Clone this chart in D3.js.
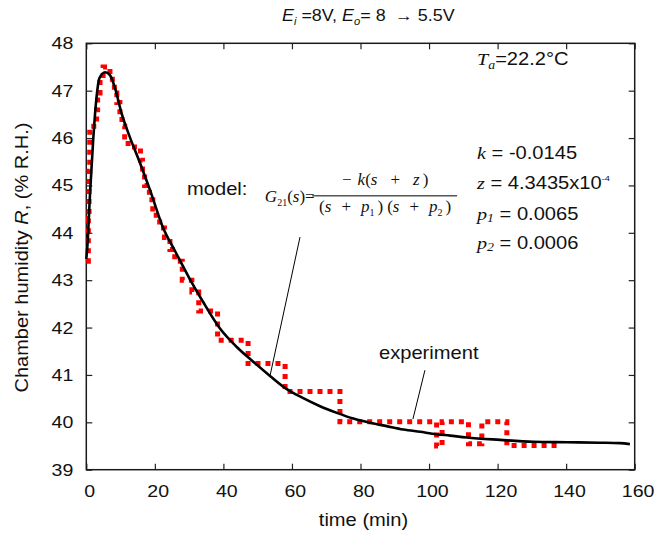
<!DOCTYPE html>
<html lang="en">
<head>
<meta charset="UTF-8">
<title>Chamber humidity step response</title>
<script src="https://cdn.jsdelivr.net/npm/d3@7"></script>
<style>
    body { margin: 0; background: #fff; }
    svg { display: block; }
    text { font-family: "Liberation Sans", Arial, Helvetica, sans-serif; fill: #111; }
</style>
</head>
<body>
<script type="text/javascript">
    // model response (black)
    var modelTime = [0, 0.3, 1.1, 2.0, 3.0, 3.8, 5.5, 6.9, 8.4, 10.3, 12.7, 15.7, 18.6, 22.5, 26, 30, 34,
        39.0, 43.9, 48.7, 53.6, 58.5, 63.3, 68.2, 73.1, 77.9, 82.8, 87.6, 92.5, 97.4, 102.2, 106.1,
        111.0, 120.7, 130.4, 140.2, 149.9, 155.7, 158.6];
    var modelHumidity = [43.45, 43.7, 44.84, 45.95, 46.87, 47.26, 47.39, 47.33, 47.05, 46.52, 46.02, 45.47, 44.9, 44.09, 43.6, 43.05, 42.55,
        41.98, 41.59, 41.28, 40.98, 40.70, 40.51, 40.34, 40.20, 40.08, 39.99, 39.92, 39.85, 39.80, 39.75, 39.72,
        39.68, 39.63, 39.59, 39.58, 39.57, 39.56, 39.54];

    // experiment (red, stepped)
    var expTime = [0, 0.6, 0.8, 1.0, 3.0, 3.3, 4.0, 4.9, 6.9, 7.6, 8.2, 8.9, 9.8, 10.4, 11.2, 12.2,
        15.8, 16.4, 17.0, 18.4, 19.4, 20.4, 21.4, 22.8, 24.4, 25.8, 28.0, 30.8, 32.8, 38.3,
        47.2, 58.0, 74.0, 102.2, 103.8, 111.5, 115.4, 122.7, 138.2];
    var expHumidity = [43.4, 44.3, 45.3, 46.25, 46.6, 46.95, 47.25, 47.5, 47.35, 47.15, 46.95, 46.75, 46.5, 46.25, 46.02, 45.81,
        45.53, 45.25, 45.0, 44.7, 44.5, 44.3, 44.1, 43.9, 43.65, 43.4, 43.0, 42.75, 42.35, 41.73,
        41.24, 40.65, 40.01, 39.5, 40.01, 39.55, 40.01, 39.51, 39.51];

    var xTicks = [0, 20, 40, 60, 80, 100, 120, 140, 160];
    var yTicks = [39, 40, 41, 42, 43, 44, 45, 46, 47, 48];

    var svgWidth = 657;
    var svgHeight = 534;
    var margin = {top: 43.3, right: 22.3, bottom: 64.3, left: 86.3};
    var w = svgWidth - margin.left - margin.right;
    var h = svgHeight - margin.top - margin.bottom;
    var stretch = 1.15; // the source font runs wider than Arial

    var modelData = modelTime.map(function (t, i) { return [t, modelHumidity[i]]; });
    var expData = expTime.map(function (t, i) { return [t, expHumidity[i]]; });

    var xScale = d3.scaleLinear().domain([0, 160]).range([0, w]);
    var yScale = d3.scaleLinear().domain([39, 48]).range([h, 0]);

    var svg = d3.select("body").append("svg")
        .attr("width", svgWidth)
        .attr("height", svgHeight);
    var g = svg.append("g")
        .attr("transform", "translate(" + margin.left + "," + margin.top + ")");

    // axes, ticks pointing inward on all four sides
    var xAxis = d3.axisBottom(xScale).tickValues(xTicks).tickSizeInner(-6).tickSizeOuter(0).tickPadding(15);
    var yAxis = d3.axisLeft(yScale).tickValues(yTicks).tickSizeInner(-6).tickSizeOuter(0).tickPadding(11.3);
    var gx = g.append("g").attr("class", "x axis")
        .attr("transform", "translate(0," + h + ")")
        .call(xAxis);
    var gy = g.append("g").attr("class", "y axis").call(yAxis);
    g.append("g").call(d3.axisTop(xScale).tickValues(xTicks).tickSizeInner(-6).tickSizeOuter(0).tickFormat(""));
    g.append("g").attr("transform", "translate(" + w + ",0)")
        .call(d3.axisRight(yScale).tickValues(yTicks).tickSizeInner(-6).tickSizeOuter(0).tickFormat(""));
    g.selectAll(".domain").remove();
    g.selectAll(".tick line").attr("stroke", "#222").attr("stroke-width", 1.2);
    g.selectAll(".tick text").attr("font-size", "17px").attr("fill", "#111")
        .attr("font-family", "Liberation Sans, Arial, sans-serif")
        .attr("transform", "scale(" + stretch + ",1)");
    gx.selectAll(".tick text").attr("dx", 2.5);

    g.append("rect")
        .attr("width", w)
        .attr("height", h)
        .attr("fill", "none")
        .attr("stroke", "#1a1a1a")
        .attr("stroke-width", 1.5);

    // experiment trace
    var stepLine = d3.line()
        .x(function (d) { return xScale(d[0]); })
        .y(function (d) { return yScale(d[1]); })
        .curve(d3.curveStepAfter);
    g.append("path")
        .datum(expData)
        .attr("d", stepLine)
        .attr("fill", "none")
        .attr("stroke", "#ff0000")
        .attr("stroke-width", 5)
        .attr("stroke-dasharray", "5,5");

    // model
    var modelLine = d3.line()
        .x(function (d) { return xScale(d[0]); })
        .y(function (d) { return yScale(d[1]); })
        .curve(d3.curveMonotoneX);
    g.append("path")
        .datum(modelData)
        .attr("d", modelLine)
        .attr("fill", "none")
        .attr("stroke", "#000")
        .attr("stroke-width", 2.6);

    // helper for mixed-style text; sx widens it like the source
    var serif = "Liberation Serif, Times New Roman, serif";
    function rich(parent, x, y, size, parts, sx) {
        var holder = parent.append("g")
            .attr("transform", "translate(" + x + "," + y + ") scale(" + (sx || 1) + ",1)");
        var t = holder.append("text").attr("font-size", size + "px");
        parts.forEach(function (p) {
            var s = t.append("tspan").text(p.t);
            if (p.serif) s.attr("font-family", serif);
            if (p.it) s.attr("font-style", "italic");
            if (p.size) s.attr("font-size", p.size + "px");
            if (p.dy) s.attr("dy", p.dy);
            if (p.dx) s.attr("dx", p.dx);
        });
        return t;
    }

    // title
    rich(svg, 282, 21, 16, [
        {t: "E", it: true}, {t: "i", it: true, size: 10, dy: 4}, {t: " =8V, ", dy: -4},
        {t: "E", it: true}, {t: "o", it: true, size: 10, dy: 4}, {t: "= 8", dy: -4}
    ], 1.12);
    rich(svg, 395, 21, 16, [{t: "\u2192 5.5V"}], 1.12);

    // axis titles
    rich(svg, 0, 0, 17.7, [
        {t: "Chamber humidity "}, {t: "R", it: true}, {t: ", (% R.H.)"}
    ]).attr("text-anchor", "middle")
        .attr("transform", "translate(28," + (margin.top + h / 2 + 1) + ") rotate(-90) scale(1.13,1)");
    rich(svg, margin.left + w / 2 + 3, 526, 17.5, [{t: "time (min)"}], stretch)
        .attr("text-anchor", "middle");

    // annotations (positions in data units)
    rich(g, xScale(114), yScale(47.54), 17.5, [
        {t: "T", serif: true, it: true}, {t: "a", serif: true, it: true, size: 12, dy: 4}, {t: "=22.2\u00b0C", dy: -4}
    ], stretch);
    rich(g, xScale(114), yScale(45.55), 17.5, [
        {t: "k", serif: true, it: true}, {t: " = -0.0145"}
    ], stretch);
    rich(g, xScale(114), yScale(44.92), 17.5, [
        {t: "z", serif: true, it: true}, {t: " = 4.3435x10"}, {t: "-4", size: 8, dy: -8}
    ], stretch);
    rich(g, xScale(114), yScale(44.28), 17.5, [
        {t: "p", serif: true, it: true}, {t: "1", serif: true, it: true, size: 12, dy: 2}, {t: " = 0.0065", dy: -2}
    ], stretch);
    rich(g, xScale(114), yScale(43.65), 17.5, [
        {t: "p", serif: true, it: true}, {t: "2", serif: true, it: true, size: 12, dy: 2}, {t: " = 0.0006", dy: -2}
    ], stretch);

    rich(g, xScale(29.4), yScale(44.79), 17.5, [{t: "model:"}], stretch);

    // transfer function G21(s)
    rich(g, xScale(52.1), yScale(44.66), 17, [
        {t: "G", serif: true, it: true}, {t: "21", serif: true, size: 10, dy: 4},
        {t: "(", serif: true, dy: -4}, {t: "s", serif: true, it: true}, {t: ")=", serif: true}
    ]);
    var fracMid = xScale(87.2);
    rich(g, fracMid, yScale(45.0), 17, [
        {t: "\u2212", serif: true}, {t: "k", serif: true, it: true, dx: 6}, {t: "(", serif: true},
        {t: "s", serif: true, it: true}, {t: "+", serif: true, dx: 13}, {t: "z", serif: true, it: true, dx: 13},
        {t: ")", serif: true, dx: 3}
    ]).attr("text-anchor", "middle");
    g.append("line")
        .attr("x1", xScale(65.9)).attr("x2", xScale(108.2))
        .attr("y1", yScale(44.78)).attr("y2", yScale(44.78))
        .attr("stroke", "#000").attr("stroke-width", 1);
    rich(g, fracMid, yScale(44.43), 17, [
        {t: "(", serif: true}, {t: "s", serif: true, it: true}, {t: "+", serif: true, dx: 10},
        {t: "p", serif: true, it: true, dx: 10}, {t: "1", serif: true, size: 10, dy: 4}, {t: ")", serif: true, dy: -4, dx: 3},
        {t: "(", serif: true, dx: 4}, {t: "s", serif: true, it: true}, {t: "+", serif: true, dx: 10},
        {t: "p", serif: true, it: true, dx: 10}, {t: "2", serif: true, size: 10, dy: 4}, {t: ")", serif: true, dy: -4, dx: 3}
    ]).attr("text-anchor", "middle");

    // leader lines
    g.append("line")
        .attr("x1", xScale(62.35)).attr("y1", yScale(43.91))
        .attr("x2", xScale(53.6)).attr("y2", yScale(40.98))
        .attr("stroke", "#000").attr("stroke-width", 1);

    rich(g, xScale(85.4), yScale(41.34), 17.5, [{t: "experiment"}], stretch);
    g.append("line")
        .attr("x1", xScale(98.8)).attr("y1", yScale(41.10))
        .attr("x2", xScale(95.3)).attr("y2", yScale(40.07))
        .attr("stroke", "#000").attr("stroke-width", 1);
</script>
</body>
</html>
